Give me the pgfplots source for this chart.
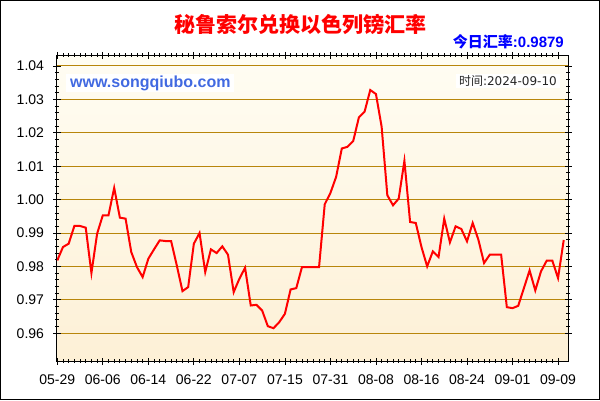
\documentclass[border=0pt]{standalone}
\usepackage{pgfplots}
\pgfplotsset{compat=1.18}
\usepackage{fontspec}
\setmainfont{Liberation Sans}
\newfontfamily\cjk{Noto Sans CJK SC}
\newfontfamily\dejavu{DejaVu Sans}
\definecolor{gridc}{HTML}{B8860B}
\definecolor{bgtop}{HTML}{FFFDF3}
\definecolor{bgbot}{HTML}{FDF0D6}
\definecolor{siteblue}{HTML}{4169E1}
\pgfplotstableread{
i v
0 0.9818
1 0.9858
2 0.9868
3 0.9921
4 0.9921
5 0.9916
6 0.9780
7 0.9898
8 0.9953
9 0.9953
10 1.0035
11 0.9946
12 0.9943
13 0.9843
14 0.9798
15 0.9768
16 0.9823
17 0.9851
18 0.9878
19 0.9876
20 0.9876
21 0.9803
22 0.9726
23 0.9738
24 0.9868
25 0.9900
26 0.9783
27 0.9851
28 0.9840
29 0.9860
30 0.9835
31 0.9723
32 0.9763
33 0.9796
34 0.9683
35 0.9685
36 0.9668
37 0.9621
38 0.9615
39 0.9633
40 0.9658
41 0.9731
42 0.9735
43 0.9798
44 0.9798
45 0.9798
46 0.9798
47 0.9986
48 1.0020
49 1.0068
50 1.0153
51 1.0158
52 1.0175
53 1.0246
54 1.0263
55 1.0328
56 1.0316
57 1.0218
58 1.0013
59 0.9983
60 1.0003
61 1.0116
62 0.9933
63 0.9930
64 0.9858
65 0.9800
66 0.9845
67 0.9828
68 0.9943
69 0.9872
70 0.9920
71 0.9912
72 0.9875
73 0.9930
74 0.9880
75 0.9810
76 0.9835
77 0.9835
78 0.9835
79 0.9678
80 0.9675
81 0.9682
82 0.9735
83 0.9788
84 0.9728
85 0.9785
86 0.9817
87 0.9817
88 0.9765
89 0.9879
}\ratedata
\begin{document}
\begin{tikzpicture}
\useasboundingbox (0pt,0pt) rectangle (600pt,400pt);
\fill[white] (0pt,0pt) rectangle (600pt,400pt);
\begin{axis}[
  at={(57pt,39pt)}, anchor=south west,
  scale only axis, width=511pt, height=305.5pt,
  xmin=-0.05, xmax=89.75, ymin=0.95168, ymax=1.04314,
  xtick={0,8,16,24,32,40,48,56,64,72,80,88},
  xticklabels={05-29,06-06,06-14,06-22,07-07,07-15,07-31,08-08,08-16,08-24,09-01,09-09},
  minor x tick num=7,
  ytick={0.96,0.97,0.98,0.99,1.00,1.01,1.02,1.03,1.04},
  minor y tick num=4,
  ymajorgrids, grid style={gridc, line width=1pt},
  axis line style={line width=1pt},
  tick style={black, line width=0.8pt},
  tick align=center, major tick length=7pt, minor tick length=4pt,
  tick label style={font=\fontsize{14}{16}\selectfont, text=black},
  xticklabel style={yshift=-7pt},
  yticklabel style={xshift=-6pt, /pgf/number format/.cd, fixed, fixed zerofill, precision=2, assume math mode=true},
  axis background/.style={top color=bgtop, bottom color=bgbot},
]
\addplot[red, line width=2pt, sharp plot] table[x=i, y=v] {\ratedata};
\end{axis}
\node[font=\cjk\bfseries\fontsize{21}{24}\selectfont, text=red] at (300pt,375.5pt) {秘鲁索尔兑换以色列镑汇率};
\node[anchor=east, text=blue, font=\bfseries\fontsize{15}{17}\selectfont, inner sep=0pt] at (564pt,358pt) {{\cjk\bfseries 今日汇率}:0.9879};
\node[anchor=west, fill=white, text=siteblue, font=\bfseries\fontsize{16}{18}\selectfont, inner xsep=4pt, inner ysep=2pt, minimum height=17pt] at (66pt,317pt) {www.songqiubo.com};
\node[anchor=east, fill=white, text=black!85, font=\fontsize{12}{14}\selectfont, inner xsep=3pt, inner ysep=2pt] at (560pt,319pt) {{\cjk 时间}{\dejavu :2024-09-10}};
\draw[line width=1pt] (0.5pt,0.5pt) rectangle (599.5pt,399.5pt);
\end{tikzpicture}
\end{document}
